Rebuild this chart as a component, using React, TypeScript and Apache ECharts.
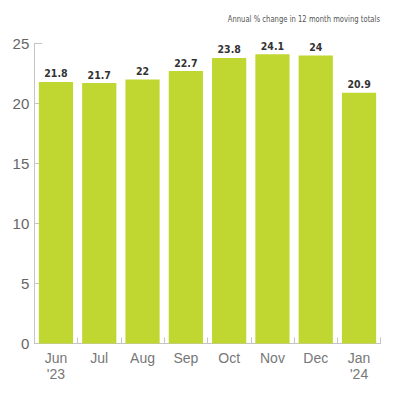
import React, { useEffect, useRef } from "react";
import * as echarts from "echarts";

const categories = ["Jun\n'23", "Jul", "Aug", "Sep", "Oct", "Nov", "Dec", "Jan\n'24"];
const values = [21.8, 21.7, 22, 22.7, 23.8, 24.1, 24, 20.9];
const subtitle = "Annual % change in 12 month moving totals";

export default function App() {
  const ref = useRef<HTMLDivElement>(null);
  useEffect(() => {
    const chart = echarts.init(ref.current!, null, { renderer: "svg" });
    chart.setOption({
      animation: false,
      backgroundColor: "#ffffff",
      graphic: [
        {
          type: "text",
          x: 380,
          y: 19,
          scaleX: 0.8,
          style: {
            text: subtitle,
            textAlign: "right",
            textVerticalAlign: "middle",
            fontFamily: "'DejaVu Sans Condensed', 'DejaVu Sans', sans-serif",
            fontSize: 9.5,
            fill: "#555",
          },
        },
      ],
      grid: { left: 34.3, right: 19.3, top: 43.5, bottom: 56.5, containLabel: false },
      xAxis: {
        type: "category",
        data: categories,
        axisLine: { lineStyle: { color: "#c4c4c4", width: 1 } },
        axisTick: { show: true, inside: true, length: 6, lineStyle: { color: "#c4c4c4" } },
        axisLabel: {
          color: "#777",
          fontFamily: "'Liberation Sans', Arial, sans-serif",
          fontSize: 14,
          lineHeight: 16,
          margin: 6,
          interval: 0,
        },
      },
      yAxis: {
        type: "value",
        min: 0,
        max: 25,
        interval: 5,
        splitLine: { show: false },
        axisLine: { show: true, lineStyle: { color: "#c4c4c4", width: 1 } },
        axisTick: { show: true, inside: true, length: 8, lineStyle: { color: "#c4c4c4" } },
        axisLabel: {
          color: "#666",
          fontFamily: "'Liberation Sans', Arial, sans-serif",
          fontSize: 15,
          margin: 5,
        },
      },
      series: [
        {
          type: "bar",
          data: values,
          barCategoryGap: "21%",
          itemStyle: { color: "#bfd730" },
          label: {
            show: true,
            position: "top",
            distance: 3,
            color: "#333",
            fontFamily: "'DejaVu Sans Condensed', sans-serif",
            fontSize: 10.5,
            fontWeight: "bold",
          },
        },
      ],
    });
    return () => chart.dispose();
  }, []);
  return <div ref={ref} style={{ width: 400, height: 400, position: "absolute", left: 0, top: 0 }} />;
}
